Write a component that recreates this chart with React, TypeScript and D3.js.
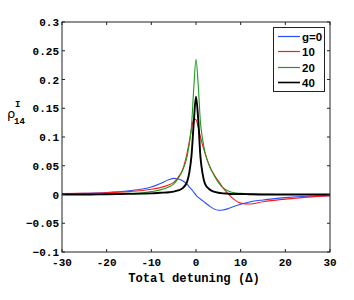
import React from 'react'
import * as d3 from 'd3'

// detuning samples (denser near resonance)
const detuning = [-30, -25, -20, -15, -12, -10, -8, -6, -5, -4, -3, -2, -1.5, -1, -0.5, 0, 0.5, 1, 1.5, 2, 3, 4, 5, 6, 7, 8, 10, 12, 15, 20, 25, 30]

const g0 = [0.001, 0.002, 0.0035, 0.0065, 0.0095, 0.013, 0.019, 0.026, 0.028, 0.027, 0.024, 0.018, 0.013, 0.009, 0.004, -0.001, -0.005, -0.008, -0.011, -0.014, -0.02, -0.025, -0.0275, -0.027, -0.025, -0.022, -0.017, -0.013, -0.0095, -0.0055, -0.003, -0.002]
const g10 = [0.0015, 0.002, 0.003, 0.005, 0.007, 0.009, 0.012, 0.017, 0.021, 0.03, 0.043, 0.072, 0.092, 0.114, 0.131, 0.13, 0.117, 0.1, 0.085, 0.072, 0.05, 0.035, 0.024, 0.012, 0.003, -0.005, -0.015, -0.0165, -0.0125, -0.008, -0.0045, -0.002]
const g20 = [0.0005, 0.0007, 0.001, 0.002, 0.003, 0.005, 0.008, 0.0136, 0.018, 0.028, 0.042, 0.066, 0.088, 0.12, 0.185, 0.235, 0.19, 0.125, 0.095, 0.074, 0.05, 0.034, 0.021, 0.012, 0.007, 0.004, 0.002, 0.001, 0.0005, 0, 0, 0]
const g40 = [0, 0, 0.0005, 0.001, 0.0015, 0.002, 0.003, 0.004, 0.005, 0.007, 0.011, 0.022, 0.038, 0.068, 0.125, 0.17, 0.13, 0.065, 0.035, 0.019, 0.009, 0.005, 0.003, 0.002, 0.0015, 0.001, 0.001, 0.0005, 0, 0, 0, 0]

const seriesNames = ['g=0', '10', '20', '40']
const seriesColors = ['#2a4dff', '#ff1a1a', '#1f9a1f', '#000000']
const seriesWidths = [1.1, 1.1, 1.1, 1.9]

const xTicks = [-30, -20, -10, 0, 10, 20, 30]
const yTicks = [-0.1, -0.05, 0, 0.05, 0.1, 0.15, 0.2, 0.25, 0.3]

export default function App () {
  const width = 354
  const height = 300
  const margin = {top: 22, right: 24, bottom: 48, left: 62}
  const x = d3.scaleLinear().domain([-30, 30]).range([margin.left, width - margin.right])
  const y = d3.scaleLinear().domain([-0.1, 0.3]).range([height - margin.bottom, margin.top])

  const allSeries = [g0, g10, g20, g40]
  const line = d3.line<number>()
    .x((d, i) => x(detuning[i]))
    .y((d) => y(d))
    .curve(d3.curveMonotoneX)

  const fmt = (v: number) => {
    if (v === 0) return '0'
    return d3.format('')(+v.toFixed(2))
  }

  const x0 = x.range()[0]
  const x1 = x.range()[1]
  const y0 = y.range()[0]
  const y1 = y.range()[1]
  const tickLen = 3
  const mono = '"Liberation Mono", "DejaVu Sans Mono", monospace'

  // legend box
  const lg = {x: 273.5, y: 27.5, w: 51, h: 64, row: 15.5}

  return (
    <svg width={width} height={height} style={{position: 'absolute', left: 0, top: 0, background: '#fff'}}>
      <defs>
        <clipPath id='plot-clip'>
          <rect x={x0} y={y1} width={x1 - x0} height={y0 - y1} />
        </clipPath>
      </defs>
      <rect x={0} y={0} width={width} height={height} fill='#fff' />

      {/* curves */}
      <g clipPath='url(#plot-clip)'>
        {allSeries.map((s, i) => (
          <path key={i} d={line(s) || ''} fill='none' stroke={seriesColors[i]} strokeWidth={seriesWidths[i]} />
        ))}
      </g>

      {/* box and ticks */}
      <rect x={x0} y={y1} width={x1 - x0} height={y0 - y1} fill='none' stroke='#222' strokeWidth={1} />
      {xTicks.map((t) => (
        <g key={'x' + t}>
          <line x1={x(t)} x2={x(t)} y1={y0} y2={y0 - tickLen} stroke='#222' />
          <line x1={x(t)} x2={x(t)} y1={y1} y2={y1 + tickLen} stroke='#222' />
          <text x={x(t)} y={y0 + 14} textAnchor='middle' fontFamily={mono} fontWeight='bold' fontSize={11} fill='#000'>{t}</text>
        </g>
      ))}
      {yTicks.map((t) => (
        <g key={'y' + t}>
          <line x1={x0} x2={x0 + tickLen} y1={y(t)} y2={y(t)} stroke='#222' />
          <line x1={x1} x2={x1 - tickLen} y1={y(t)} y2={y(t)} stroke='#222' />
          <text x={x0 - 3} y={y(t) + 4} textAnchor='end' fontFamily={mono} fontWeight='bold' fontSize={11} fill='#000'>{fmt(t)}</text>
        </g>
      ))}

      {/* axis labels */}
      <text x={x(0) - 2} y={282} textAnchor='middle' fontFamily={mono} fontWeight='bold' fontSize={12.2} fill='#000'>Total detuning (Δ)</text>
      <text x={7} y={118} fontFamily='"DejaVu Sans", sans-serif' fontSize={13} fill='#000'>ρ</text>
      <text x={15} y={107} fontFamily={mono} fontWeight='bold' fontSize={9} fill='#000'>I</text>
      <text x={14} y={124} fontFamily={mono} fontWeight='bold' fontSize={9} fill='#000'>14</text>

      {/* legend */}
      <rect x={lg.x} y={lg.y} width={lg.w} height={lg.h} fill='#fff' stroke='#222' strokeWidth={1} />
      {seriesNames.map((n, i) => {
        const ry = Math.round(lg.y + 8 + i * lg.row) + 0.5
        return (
          <g key={n}>
            <line x1={lg.x + 4.5} x2={lg.x + 26.5} y1={ry} y2={ry} stroke={seriesColors[i]} strokeWidth={i === 3 ? 1.6 : 1.2} />
            <text x={lg.x + 28.5} y={ry + 4} fontFamily='"Liberation Sans", Arial, sans-serif' fontWeight='bold' fontSize={11.5} fill='#000'>{n}</text>
          </g>
        )
      })}
    </svg>
  )
}
